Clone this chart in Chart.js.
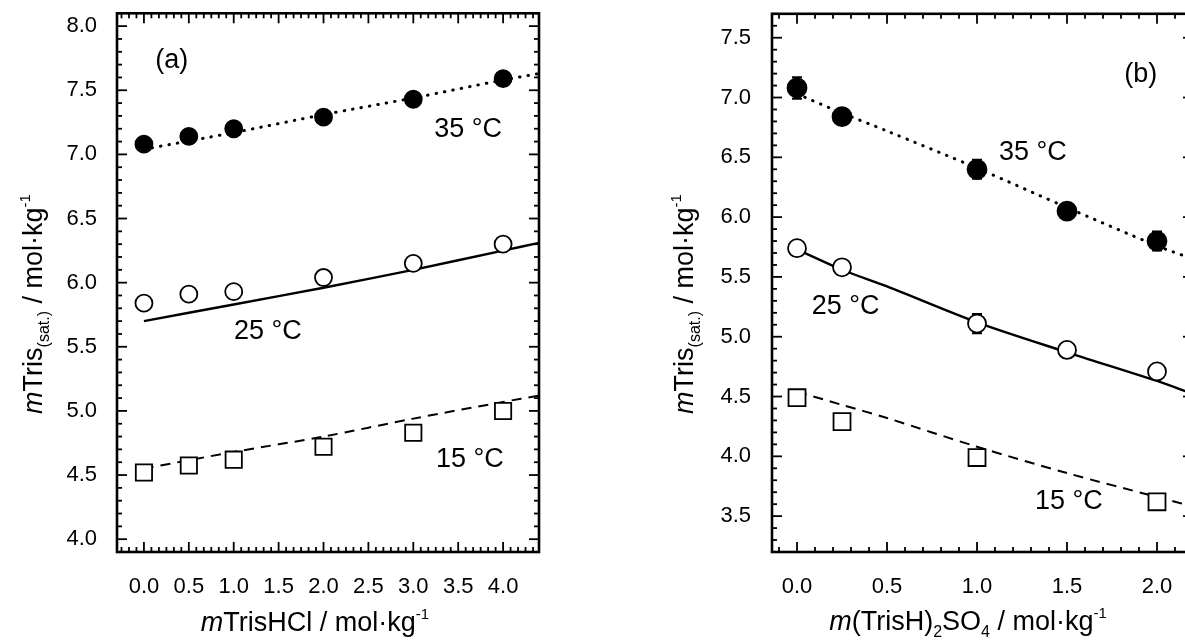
<!DOCTYPE html>
<html><head><meta charset="utf-8">
<script src="https://cdn.jsdelivr.net/npm/chart.js@4.4.1/dist/chart.umd.min.js"></script>
<style>
html,body{margin:0;padding:0;background:#fff;overflow:hidden;width:1185px;height:640px;}
canvas{position:absolute;top:0;}
#ca{left:0;}
#cb{left:580px;}
</style></head><body>
<canvas id="ca" width="560" height="640"></canvas>
<canvas id="cb" width="640" height="640"></canvas>
<script>
// ---------- Panel (a): mTrisHCl ----------
const xA = [0, 0.5, 1, 2, 3, 4];
const a35 = [7.08, 7.14, 7.20, 7.29, 7.43, 7.59];
const a25 = [5.84, 5.91, 5.93, 6.04, 6.15, 6.30];
const a15 = [4.52, 4.575, 4.62, 4.72, 4.83, 5.00];
const fitXA = [0, 1, 2, 3, 4, 4.4];
const fitA35 = [7.04, 7.17, 7.31, 7.44, 7.58, 7.63];
const fitA25 = [5.70, 5.83, 5.96, 6.10, 6.25, 6.31];
const fitA15 = [4.55, 4.68, 4.80, 4.94, 5.07, 5.12];
const xTicksA = [0, 0.5, 1, 1.5, 2, 2.5, 3, 3.5, 4];
const yTicksA = [4, 4.5, 5, 5.5, 6, 6.5, 7, 7.5, 8];

// ---------- Panel (b): m(TrisH)2SO4 ----------
const xB = [0, 0.25, 1, 1.5, 2];
const b35 = [7.08, 6.84, 6.40, 6.05, 5.80];
const b35err = [0.09, 0.03, 0.08, 0.03, 0.08];
const b25 = [5.74, 5.58, 5.11, 4.89, 4.71];
const b25err = [0.03, 0.03, 0.08, 0.03, 0.03];
const xB15 = [0, 0.25, 1, 2];
const b15 = [4.49, 4.29, 3.99, 3.62];
const fitXB = [0, 0.25, 0.5, 1, 1.5, 2, 2.2];
const fitB35 = [7.03, 6.87, 6.72, 6.41, 6.08, 5.76, 5.65];
const fitB25 = [5.73, 5.56, 5.42, 5.12, 4.87, 4.63, 4.52];
const fitB15 = [4.54, 4.43, 4.32, 4.08, 3.86, 3.66, 3.58];
const xTicksB = [0, 0.5, 1, 1.5, 2];
const yTicksB = [3.5, 4, 4.5, 5, 5.5, 6, 6.5, 7, 7.5];

const FONT = "'Liberation Sans', Arial, Helvetica, sans-serif";
Chart.defaults.font.family = FONT;
Chart.defaults.color = '#000';

const pts = (xs, ys) => xs.map((x, i) => ({x: x, y: ys[i]}));

function markerSet(xs, ys, kind, r, errs) {
  const filled = kind === 'filled';
  return {
    data: pts(xs, ys), showLine: false, order: 0,
    pointStyle: kind === 'square' ? 'rect' : 'circle',
    pointRadius: r, pointHoverRadius: r,
    pointBackgroundColor: filled ? '#000' : '#fff',
    pointBorderColor: '#000', pointBorderWidth: 1.8,
    errors: errs || null
  };
}
function fitSet(xs, ys, style) {
  const ds = {data: pts(xs, ys), showLine: true, pointRadius: 0, order: 1,
    borderColor: '#000', borderWidth: 2.4, tension: 0.3, fill: false};
  if (style === 'dot') { ds.borderDash = [0.5, 8]; ds.borderWidth = 3; ds.borderCapStyle = 'round'; }
  if (style === 'dash') { ds.borderDash = [10, 7]; ds.borderWidth = 2; }
  return ds;
}

const errorBars = {
  id: 'errorBars',
  beforeDatasetsDraw(chart) {
    const {ctx, scales: {x, y}} = chart;
    ctx.save(); ctx.strokeStyle = '#000'; ctx.lineWidth = 2;
    chart.data.datasets.forEach(ds => {
      if (!ds.errors) return;
      ds.data.forEach((p, i) => {
        const e = ds.errors[i]; if (!e) return;
        const px = x.getPixelForValue(p.x), t = y.getPixelForValue(p.y + e), b = y.getPixelForValue(p.y - e);
        ctx.beginPath(); ctx.moveTo(px, t); ctx.lineTo(px, b);
        ctx.moveTo(px - 5, t); ctx.lineTo(px + 5, t);
        ctx.moveTo(px - 5, b); ctx.lineTo(px + 5, b); ctx.stroke();
      });
    });
    ctx.restore();
  }
};

function drawRich(ctx, segs, x, y, rotate) {
  let w = 0;
  segs.forEach(s => { ctx.font = (s.it ? 'italic ' : '') + s.s + 'px ' + FONT; s.w = ctx.measureText(s.t).width; w += s.w; });
  ctx.save(); ctx.translate(x, y); if (rotate) ctx.rotate(-Math.PI / 2);
  ctx.textAlign = 'left'; ctx.textBaseline = 'alphabetic'; ctx.fillStyle = '#000';
  let cx = -w / 2;
  segs.forEach(s => { ctx.font = (s.it ? 'italic ' : '') + s.s + 'px ' + FONT; ctx.fillText(s.t, cx, s.dy || 0); cx += s.w; });
  ctx.restore();
}

const frameAndText = {
  id: 'frameAndText',
  afterDraw(chart, args, o) {
    const {ctx, chartArea: a, scales: {x, y}} = chart;
    ctx.save();
    ctx.strokeStyle = '#000'; ctx.lineWidth = 1.8; ctx.lineCap = 'butt';
    const seg = (x1, y1, x2, y2) => { ctx.beginPath(); ctx.moveTo(x1, y1); ctx.lineTo(x2, y2); ctx.stroke(); };
    const isMajor = (v, M) => Math.abs(v / M - Math.round(v / M)) < 1e-6;
    for (let k = Math.ceil(x.min / o.xMinor - 1e-9); k * o.xMinor <= x.max + 1e-9; k++) {
      const v = k * o.xMinor, px = x.getPixelForValue(v), L = isMajor(v, 0.5) ? 10 : 5;
      seg(px, a.bottom, px, a.bottom - L); seg(px, a.top, px, a.top + L);
    }
    for (let k = Math.ceil(y.min / 0.1 - 1e-9); k * 0.1 <= y.max + 1e-9; k++) {
      const v = k * 0.1, py = y.getPixelForValue(v), L = isMajor(v, 0.5) ? 10 : 5;
      seg(a.left, py, a.left + L, py); seg(a.right, py, a.right - L, py);
    }
    ctx.lineWidth = 2.6;
    ctx.strokeRect(a.left, a.top, a.right - a.left, a.bottom - a.top);
    ctx.fillStyle = '#000'; ctx.textAlign = 'center'; ctx.textBaseline = 'middle';
    ctx.font = '27px ' + FONT;
    o.notes.forEach(n => ctx.fillText(n.t, x.getPixelForValue(n.x), y.getPixelForValue(n.y)));
    drawRich(ctx, o.xTitle, o.xTitlePos[0], o.xTitlePos[1], false);
    drawRich(ctx, o.yTitle, o.yTitlePos[0], o.yTitlePos[1], true);
    ctx.restore();
  }
};

function makeChart(id, cfg) {
  return new Chart(document.getElementById(id), {
    type: 'scatter',
    data: {datasets: cfg.datasets},
    options: {
      responsive: false, animation: false, devicePixelRatio: 1,
      layout: {padding: {left: 0, top: 12, right: cfg.padRight, bottom: 0}},
      plugins: {legend: {display: false}, tooltip: {enabled: false}, frameAndText: cfg.text},
      scales: {
        x: {type: 'linear', position: 'bottom', min: cfg.xMin, max: cfg.xMax,
            grid: {display: false, drawTicks: false}, border: {display: false},
            afterBuildTicks: s => { s.ticks = cfg.xTicks.map(v => ({value: v})); },
            afterFit: s => { s.height = 88; s.paddingLeft = 0; s.paddingRight = 0; },
            ticks: {padding: 22, font: {size: 22}, color: '#000', maxRotation: 0, autoSkip: false,
                    callback: v => Number(v).toFixed(1)}},
        y: {type: 'linear', position: 'left', min: cfg.yMin, max: cfg.yMax,
            grid: {display: false, drawTicks: false}, border: {display: false},
            afterBuildTicks: s => { s.ticks = cfg.yTicks.map(v => ({value: v})); },
            afterFit: s => { s.width = cfg.yWidth; s.paddingTop = 0; s.paddingBottom = 0; },
            ticks: {padding: cfg.yPad, font: {size: 22}, color: '#000', autoSkip: false,
                    callback: v => Number(v).toFixed(1)}}
      }
    },
    plugins: [errorBars, frameAndText]
  });
}

const yTitleSegs = [{t: 'm', it: true, s: 27}, {t: 'Tris', s: 27}, {t: '(sat.)', s: 16, dy: 7},
                    {t: ' / mol\u00B7kg', s: 27}, {t: '-1', s: 15, dy: -12}];

makeChart('ca', {
  xMin: -0.3, xMax: 4.4, yMin: 3.9, yMax: 8.1, padRight: 21, yWidth: 117, yPad: 20,
  xTicks: xTicksA, yTicks: yTicksA,
  datasets: [
    markerSet(xA, a35, 'filled', 8.5),
    markerSet(xA, a25, 'open', 8.5),
    markerSet(xA, a15, 'square', 11.5),
    fitSet(fitXA, fitA35, 'dot'),
    fitSet(fitXA, fitA25, 'solid'),
    fitSet(fitXA, fitA15, 'dash')
  ],
  text: {
    xMinor: 0.5 / 6,
    notes: [{t: '(a)', x: 0.31, y: 7.73}, {t: '35 \u00B0C', x: 3.61, y: 7.19},
            {t: '25 \u00B0C', x: 1.38, y: 5.62}, {t: '15 \u00B0C', x: 3.63, y: 4.62}],
    xTitle: [{t: 'm', it: true, s: 27}, {t: 'TrisHCl / mol\u00B7kg', s: 27}, {t: '-1', s: 15, dy: -12}],
    xTitlePos: [315, 631],
    yTitle: yTitleSegs, yTitlePos: [42, 304]
  }
});

makeChart('cb', {
  xMin: -0.139, xMax: 2.2, yMin: 3.2, yMax: 7.7, padRight: 27, yWidth: 192, yPad: 21,
  xTicks: xTicksB, yTicks: yTicksB,
  datasets: [
    markerSet(xB, b35, 'filled', 9.5, b35err),
    markerSet(xB, b25, 'open', 9, b25err),
    markerSet(xB15, b15, 'square', 12),
    fitSet(fitXB, fitB35, 'dot'),
    fitSet(fitXB, fitB25, 'solid'),
    fitSet(fitXB, fitB15, 'dash')
  ],
  text: {
    xMinor: 0.1,
    notes: [{t: '(b)', x: 1.91, y: 7.19}, {t: '35 \u00B0C', x: 1.31, y: 6.54},
            {t: '25 \u00B0C', x: 0.27, y: 5.25}, {t: '15 \u00B0C', x: 1.51, y: 3.62}],
    xTitle: [{t: 'm', it: true, s: 27}, {t: '(TrisH)', s: 27}, {t: '2', s: 16, dy: 7}, {t: 'SO', s: 27},
             {t: '4', s: 16, dy: 7}, {t: ' / mol\u00B7kg', s: 27}, {t: '-1', s: 15, dy: -12}],
    xTitlePos: [388, 630],
    yTitle: yTitleSegs, yTitlePos: [113, 304]
  }
});
</script>
</body></html>
